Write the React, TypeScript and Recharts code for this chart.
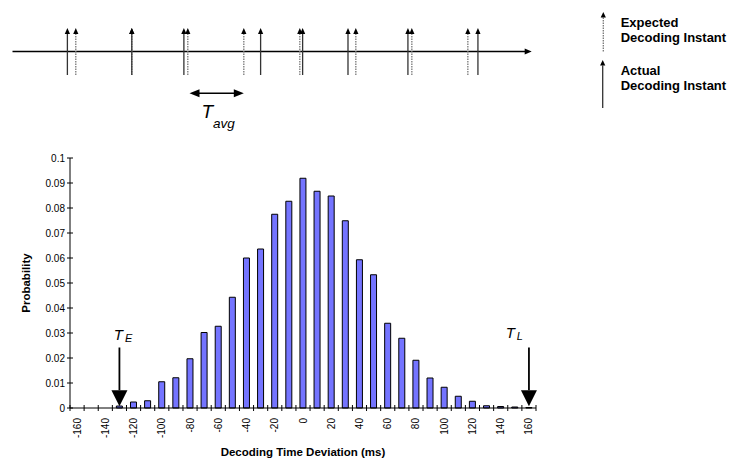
import { BarChart, Bar, XAxis, YAxis, ReferenceLine, ScatterChart, Scatter, Label } from "recharts";

const FONT = "'Liberation Sans', Arial, sans-serif";

// histogram of decoding time deviation
const deviations = [
  -160, -150, -140, -130, -120, -110, -100, -90, -80, -70, -60, -50, -40, -30, -20, -10, 0,
  10, 20, 30, 40, 50, 60, 70, 80, 90, 100, 110, 120, 130, 140, 150, 160,
];
const probabilities = [
  0, 0, 0, 0.0008, 0.0024, 0.0029, 0.0105, 0.0121, 0.0197, 0.0302, 0.0327, 0.0443, 0.06,
  0.0636, 0.0775, 0.0827, 0.0919, 0.0867, 0.0848, 0.0749, 0.0593, 0.0533, 0.0339, 0.0279,
  0.0191, 0.012, 0.0083, 0.0047, 0.0027, 0.0009, 0.0006, 0.0004, 0.0002,
];
const probabilityTicks = [0, 0.01, 0.02, 0.03, 0.04, 0.05, 0.06, 0.07, 0.08, 0.09, 0.1];

const earlyThreshold = -130; // T_E
const lateThreshold = 160; // T_L

// timeline sketch, in units of T_avg
const expectedInstants = [1, 2, 3, 4, 5, 6, 7, 8];
const actualInstants = [0.85, 2.0, 2.93, 4.3, 5.05, 5.86, 6.93, 8.18];
const avgPeriod = [3.03, 4.0];

const histogram = deviations.map((d, i) => ({ deviation: d, p: probabilities[i] }));
const expectedData = expectedInstants.map((t) => ({ t, level: 0 }));
const actualData = actualInstants.map((t) => ({ t, level: 0 }));

function DeviationTick(props: any) {
  const { x, y, payload, index } = props;
  const half = payload && payload.offset ? payload.offset : 7.06;
  const last = index === deviations.length - 1;
  return (
    <g>
      <line x1={x - half} x2={x - half} y1={y - 3} y2={y + 3} stroke="#000" />
      {last && <line x1={x + half} x2={x + half} y1={y - 3} y2={y + 3} stroke="#000" />}
      {index % 2 === 0 && (
        <text
          x={x}
          y={y + 10}
          dy="0.35em"
          transform={`rotate(-90 ${x} ${y + 10})`}
          textAnchor="end"
          fontSize={10}
          fontFamily={FONT}
          fill="#000"
        >
          {payload.value}
        </text>
      )}
    </g>
  );
}

function ProbabilityTick(props: any) {
  const { x, y, payload } = props;
  const axisX = x + 5;
  return (
    <g>
      <line x1={axisX - 3} x2={axisX + 3} y1={y} y2={y} stroke="#000" />
      <text x={x} y={y} dy="0.35em" textAnchor="end" fontSize={10} fontFamily={FONT} fill="#000">
        {String(Number(payload.value.toFixed(2)))}
      </text>
    </g>
  );
}

function thresholdArrow(sub: string, labelDx: number, labelDy: number) {
  return (props: any) => {
    const { x1, y1, x2, y2 } = props;
    return (
      <g>
        <line x1={x1} y1={y1} x2={x2} y2={y2 - 16} stroke="#000" strokeWidth={1.8} />
        <polygon points={`${x2 - 8},${y2 - 16} ${x2 + 8},${y2 - 16} ${x2},${y2}`} fill="#000" />
        <text x={x1 + labelDx} y={y1 + labelDy} fontFamily={FONT} fontStyle="italic" fill="#000">
          <tspan fontSize={15}>T</tspan>
          <tspan fontSize={11} dx={2} dy={2}>
            {sub}
          </tspan>
        </text>
      </g>
    );
  };
}

function instantArrow(dotted: boolean) {
  return (props: any) => {
    const { cx, cy } = props;
    return (
      <g>
        <line
          x1={cx}
          x2={cx}
          y1={cy}
          y2={cy - 41}
          stroke={dotted ? "#777" : "#333"}
          strokeWidth={1.3}
          strokeDasharray={dotted ? "1.5 1" : undefined}
        />
        <polygon points={`${cx - 2.6},${cy - 41} ${cx + 2.6},${cy - 41} ${cx},${cy - 47}`} fill="#000" />
      </g>
    );
  };
}

function TimelineAxis(props: any) {
  const { x1, y1, x2, y2 } = props;
  return (
    <g>
      <line x1={x1} y1={y1} x2={x2 - 6} y2={y2} stroke="#000" strokeWidth={1.3} />
      <polygon points={`${x2 - 7},${y2 - 3} ${x2 - 7},${y2 + 3} ${x2},${y2}`} fill="#000" />
    </g>
  );
}

function PeriodArrow(props: any) {
  const { x1, y1, x2, y2 } = props;
  return (
    <g>
      <line x1={x1 + 8} y1={y1} x2={x2 - 8} y2={y2} stroke="#000" strokeWidth={1.5} />
      <polygon points={`${x1},${y1} ${x1 + 10},${y1 - 4} ${x1 + 10},${y1 + 4}`} fill="#000" />
      <polygon points={`${x2},${y2} ${x2 - 10},${y2 - 4} ${x2 - 10},${y2 + 4}`} fill="#000" />
      <text x={x1 + 12} y={y1 + 25} fontFamily={FONT} fontStyle="italic" fill="#000">
        <tspan fontSize={19}>T</tspan>
        <tspan fontSize={13.5} dx={0} dy={10}>
          avg
        </tspan>
      </text>
    </g>
  );
}

function LegendSketch() {
  const text = { fontFamily: FONT, fontSize: 13, fontWeight: "bold" as const, fill: "#000" };
  return (
    <svg width={729} height={120} style={{ position: "absolute", left: 0, top: 0 }}>
      <line x1={603.3} x2={603.3} y1={17.5} y2={51.7} stroke="#777" strokeWidth={1.3} strokeDasharray="1.5 1" />
      <polygon points="600.7,17.5 605.9,17.5 603.3,12" fill="#000" />
      <line x1={602.7} x2={602.7} y1={65.5} y2={108} stroke="#333" strokeWidth={1.3} />
      <polygon points="600.1,65.5 605.3,65.5 602.7,60" fill="#000" />
      <text x={620.7} y={26.7} {...text}>Expected</text>
      <text x={620.7} y={41.7} {...text}>Decoding Instant</text>
      <text x={620.7} y={74.5} {...text}>Actual</text>
      <text x={620.7} y={89.5} {...text}>Decoding Instant</text>
    </svg>
  );
}

export default function App() {
  return (
    <div style={{ position: "absolute", left: 0, top: 0, width: 729, height: 461, background: "#fff" }}>
      <LegendSketch />
      <div style={{ position: "absolute", left: 0, top: 0 }}>
        <ScatterChart width={729} height={140} margin={{ top: 28, right: 197.3, bottom: 65, left: 12.5 }}>
          <XAxis type="number" dataKey="t" domain={[-0.13, 9.14]} allowDataOverflow hide />
          <YAxis type="number" dataKey="level" domain={[0, 1]} allowDataOverflow hide />
          <ReferenceLine y={0.5} shape={TimelineAxis} />
          <Scatter data={expectedData} shape={instantArrow(true)} isAnimationActive={false} />
          <Scatter data={actualData} shape={instantArrow(false)} isAnimationActive={false} />
          <ReferenceLine
            segment={[
              { x: avgPeriod[0], y: -0.39 },
              { x: avgPeriod[1], y: -0.39 },
            ]}
            ifOverflow="visible"
            shape={PeriodArrow}
          />
        </ScatterChart>
      </div>
      <div style={{ position: "absolute", left: 0, top: 140 }}>
        <BarChart
          width={729}
          height={321}
          data={histogram}
          margin={{ top: 18, right: 193, left: 0, bottom: 0 }}
          barCategoryGap={0}
        >
          <XAxis
            dataKey="deviation"
            interval={0}
            height={53}
            tickSize={0}
            tickMargin={0}
            tickLine={false}
            axisLine={{ stroke: "#000" }}
            tick={<DeviationTick />}
          >
            <Label
              content={(p: any) => {
                const vb = p.viewBox;
                return (
                  <text
                    x={vb.x + vb.width / 2}
                    y={vb.y + 48}
                    textAnchor="middle"
                    fontFamily={FONT}
                    fontSize={11.5}
                    fontWeight="bold"
                    fill="#000"
                  >
                    Decoding Time Deviation (ms)
                  </text>
                );
              }}
            />
          </XAxis>
          <YAxis
            width={70}
            domain={[0, 0.1]}
            ticks={probabilityTicks}
            interval={0}
            tickSize={0}
            tickMargin={5}
            tickLine={false}
            axisLine={{ stroke: "#000" }}
            tick={<ProbabilityTick />}
          >
            <Label
              content={(p: any) => {
                const vb = p.viewBox;
                const cy = vb.y + vb.height / 2;
                return (
                  <text
                    x={29.5}
                    y={cy}
                    transform={`rotate(-90 29.5 ${cy})`}
                    textAnchor="middle"
                    fontFamily={FONT}
                    fontSize={11.5}
                    fontWeight="bold"
                    fill="#000"
                  >
                    Probability
                  </text>
                );
              }}
            />
          </YAxis>
          <Bar dataKey="p" fill="#7474ff" stroke="#000" strokeWidth={1} barSize={6} isAnimationActive={false} />
          <ReferenceLine
            segment={[
              { x: earlyThreshold, y: 0.0242 },
              { x: earlyThreshold, y: 0.0007 },
            ]}
            ifOverflow="visible"
            shape={thresholdArrow("E", -5.6, -7.7)}
          />
          <ReferenceLine
            segment={[
              { x: lateThreshold, y: 0.0242 },
              { x: lateThreshold, y: 0.0007 },
            ]}
            ifOverflow="visible"
            shape={thresholdArrow("L", -23.3, -10)}
          />
        </BarChart>
      </div>
    </div>
  );
}
